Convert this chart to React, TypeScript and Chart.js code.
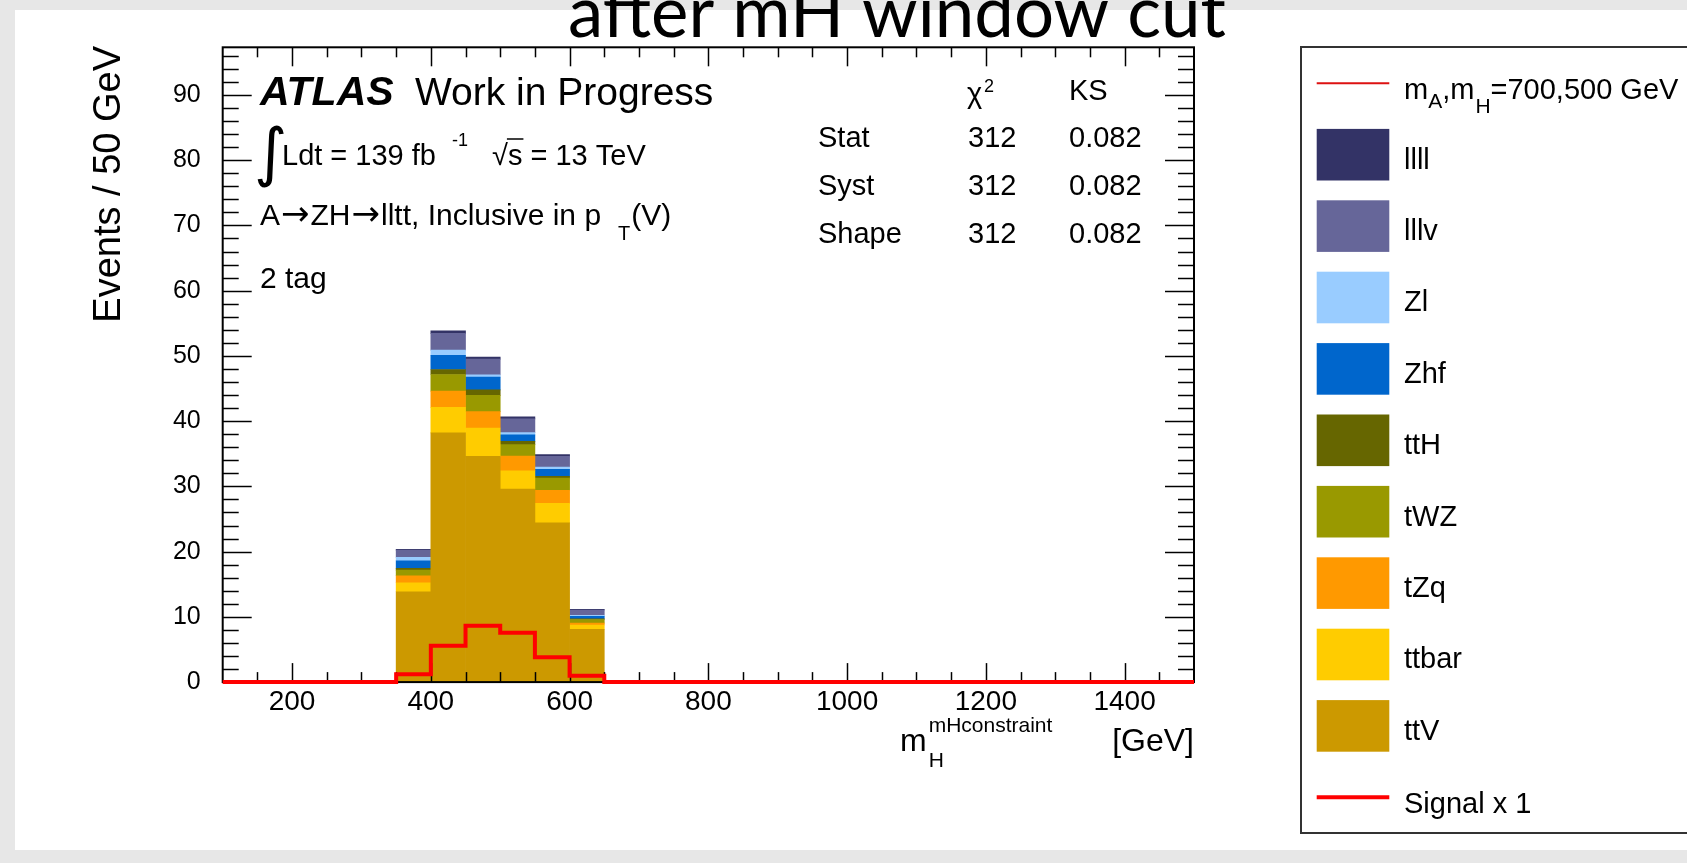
import React, { useEffect, useRef } from "react";
import { Chart, registerables } from "chart.js";

Chart.register(...registerables);

const W = 1687;
const H = 863;
const FONT = "'Liberation Sans', Arial, Helvetica, sans-serif";

// ---------------- data ----------------
const binCenters = [375, 425, 475, 525, 575, 625];
const ttV = [13.85, 38.2, 34.6, 29.6, 24.4, 8.1];
const ttbar = [1.38, 3.9, 4.35, 2.8, 3.0, 0.65];
const tZq = [1.07, 2.5, 2.5, 2.24, 2.0, 0.3];
const tWZ = [0.87, 2.55, 2.5, 1.76, 1.87, 0.55];
const ttH = [0.26, 0.77, 0.85, 0.5, 0.28, 0.1];
const Zhf = [1.17, 2.18, 1.95, 1.0, 1.07, 0.4];
const Zl = [0.52, 0.78, 0.35, 0.35, 0.35, 0.15];
const lllv = [1.12, 2.56, 2.4, 2.1, 1.65, 0.8];
const llll = [0.1, 0.4, 0.3, 0.3, 0.25, 0.1];

const signalEdges = [100, 350, 400, 450, 500, 550, 600, 650, 1500];
const signalValues = [0, 1.2, 5.58, 8.65, 7.58, 3.8, 0.98, 0, 0];

const stackLabels = ["ttV", "ttbar", "tZq", "tWZ", "ttH", "Zhf", "Zl", "lllv", "llll"];
const stackColors = ["#cc9900", "#ffcc00", "#ff9900", "#999900", "#666600", "#0066cc", "#99ccff", "#666699", "#333366"];
const stackValues = [ttV, ttbar, tZq, tWZ, ttH, Zhf, Zl, lllv, llll];
const legendOrder = ["llll", "lllv", "Zl", "Zhf", "ttH", "tWZ", "tZq", "ttbar", "ttV"];

const xRange = [100, 1500];
const yRange = [0, 97.3];
const xLabelTicks = [200, 400, 600, 800, 1000, 1200, 1400];
const yLabelTicks = [0, 10, 20, 30, 40, 50, 60, 70, 80, 90];
const xMinorStep = 50;
const xLabelStep = 100;
const xMajorStep = 200;
const yMinorStep = 2;
const yMajorStep = 10;

const statRows = ["Stat", "Syst", "Shape"];
const chi2Values = ["312", "312", "312"];
const ksValues = ["0.082", "0.082", "0.082"];

// ---------------- layout ----------------
const AREA = { left: 222.7, right: 1194, top: 47.3, bottom: 682.1 };
const YW = 120;
const XH = 80;
const SIG_INDEX = stackLabels.length;

function setFont(ctx: CanvasRenderingContext2D, size: number, style = "", family = FONT) {
  ctx.font = `${style} ${size}px ${family}`.trim();
}

function line(ctx: CanvasRenderingContext2D, x1: number, y1: number, x2: number, y2: number) {
  ctx.beginPath();
  ctx.moveTo(x1, y1);
  ctx.lineTo(x2, y2);
  ctx.stroke();
}

function rich(ctx: CanvasRenderingContext2D, x: number, y: number, parts: { t: string; size: number; dy?: number; family?: string; style?: string; gap?: number }[]) {
  let cx = x;
  for (const p of parts) {
    setFont(ctx, p.size, p.style || "", p.family || FONT);
    cx += p.gap || 0;
    ctx.fillText(p.t, cx, y + (p.dy || 0));
    cx += ctx.measureText(p.t).width;
  }
  return cx;
}

const rootPlugin = {
  id: "rootStyle",
  beforeDraw(chart: any) {
    const ctx: CanvasRenderingContext2D = chart.ctx;
    ctx.save();
    ctx.fillStyle = "#e7e7e7";
    ctx.fillRect(0, 0, W, H);
    ctx.fillStyle = "#ffffff";
    ctx.fillRect(15, 10, W - 15, 850 - 10);
    ctx.restore();
  },
  beforeDatasetDraw(chart: any, args: any) {
    if (args.index !== SIG_INDEX) return;
    const ctx: CanvasRenderingContext2D = chart.ctx;
    const { left, right, top, bottom } = chart.chartArea;
    const xs = chart.scales.x;
    const ys = chart.scales.y;
    ctx.save();
    ctx.strokeStyle = "#000";
    ctx.lineWidth = 1.5;
    for (let v = xRange[0] + xMinorStep; v < xRange[1]; v += xMinorStep) {
      const px = Math.round(xs.getPixelForValue(v)) + 0.5;
      const len = v % xMajorStep === 0 ? 19 : 10;
      line(ctx, px, bottom, px, bottom - len);
      line(ctx, px, top, px, top + len);
    }
    for (let v = yRange[0] + yMinorStep; v < yRange[1]; v += yMinorStep) {
      const py = Math.round(ys.getPixelForValue(v)) + 0.5;
      const len = v % yMajorStep === 0 ? 29 : 16;
      line(ctx, left, py, left + len, py);
      line(ctx, right, py, right - len, py);
    }
    ctx.lineWidth = 2;
    ctx.strokeRect(left, top, right - left, bottom - top);
    ctx.restore();
  },
  afterDraw(chart: any) {
    const ctx: CanvasRenderingContext2D = chart.ctx;
    ctx.save();
    ctx.fillStyle = "#000";
    ctx.textAlign = "left";
    ctx.textBaseline = "alphabetic";

    // Title
    {
      const title = "after mH window cut";
      let size = 60;
      ctx.font = `${size}px Lato, 'Open Sans', sans-serif`;
      const w = ctx.measureText(title).width;
      size = size * 658 / w;
      ctx.font = `${size}px Lato, 'Open Sans', sans-serif`;
      ctx.textAlign = "center";
      ctx.fillText(title, 897, 37);
      ctx.textAlign = "left";
    }

    // ATLAS label
    setFont(ctx, 41, "italic bold");
    ctx.fillText("ATLAS", 260, 105);
    setFont(ctx, 39);
    ctx.fillText("Work in Progress", 415, 105);

    // Luminosity line
    ctx.font = `64px 'DejaVu Sans'`;
    ctx.fillText("\u222B", 254, 174);
    setFont(ctx, 29);
    ctx.fillText("Ldt = 139 fb", 282, 165);
    setFont(ctx, 18);
    ctx.fillText("-1", 452, 146);
    setFont(ctx, 29);
    ctx.fillText("\u221A", 492, 165);
    const sx = 492 + ctx.measureText("\u221A").width;
    ctx.fillText("s = 13 TeV", sx, 165);
    const sw = ctx.measureText("s").width;
    ctx.lineWidth = 1.5;
    ctx.strokeStyle = "#000";
    line(ctx, sx - 1, 139, sx + sw + 1, 139);

    // Channel line
    const AR = "'DejaVu Sans'";
    const x3 = rich(ctx, 260, 225, [
      { t: "A", size: 30 },
      { t: "\u2192", size: 34, family: AR, gap: 1 },
      { t: "ZH", size: 30, gap: 1 },
      { t: "\u2192", size: 34, family: AR, gap: 1 },
      { t: "lltt, Inclusive in p", size: 30, gap: 1 },
    ]);
    rich(ctx, x3 + 17, 225, [
      { t: "T", size: 20, dy: 15 },
      { t: "(V)", size: 30, gap: 1 },
    ]);

    setFont(ctx, 30);
    ctx.fillText("2 tag", 260, 288);

    // Stat table
    setFont(ctx, 29);
    ctx.fillText("\u03C7", 967, 103);
    ctx.fillText("KS", 1069, 100);
    setFont(ctx, 18);
    ctx.fillText("2", 984, 92);
    setFont(ctx, 29);
    const rowBase = [147, 195, 243];
    statRows.forEach((r, i) => {
      ctx.fillText(r, 818, rowBase[i]);
      ctx.fillText(chi2Values[i], 968, rowBase[i]);
      ctx.fillText(ksValues[i], 1069, rowBase[i]);
    });

    // X axis title
    setFont(ctx, 32);
    ctx.fillText("m", 900, 751);
    const mw = ctx.measureText("m").width;
    setFont(ctx, 21);
    ctx.fillText("mHconstraint", 900 + mw + 2, 732);
    ctx.fillText("H", 900 + mw + 2, 767);
    setFont(ctx, 32);
    ctx.textAlign = "right";
    ctx.fillText("[GeV]", 1194, 751);
    ctx.textAlign = "left";

    // Y axis title
    ctx.save();
    ctx.translate(120, 46);
    ctx.rotate(-Math.PI / 2);
    setFont(ctx, 38);
    ctx.textAlign = "right";
    ctx.fillText("Events / 50 GeV", 0, 0);
    ctx.restore();

    // Legend
    const LX = 1301, LT = 47, LB = 833;
    ctx.lineWidth = 2;
    ctx.strokeStyle = "#333";
    ctx.strokeRect(LX, LT, W + 20 - LX, LB - LT);
    const y0 = 83.3, step = 71.4;
    const bx = 1316.7, bw = 72.6, bh = 51.6, tx = 1404;
    ctx.strokeStyle = "#dd1111";
    ctx.lineWidth = 2;
    line(ctx, bx, y0, bx + bw, y0);
    const base0 = y0 + 16;
    rich(ctx, tx, base0, [
      { t: "m", size: 29 },
      { t: "A", size: 21, dy: 9 },
      { t: ",m", size: 29 },
      { t: "H", size: 21, dy: 14, gap: 1 },
      { t: "=700,500 GeV", size: 29 },
    ]);
    legendOrder.forEach((name, i) => {
      const cy = y0 + step * (i + 1);
      const k = stackLabels.indexOf(name);
      ctx.fillStyle = stackColors[k];
      ctx.fillRect(bx, cy - bh / 2, bw, bh);
      ctx.fillStyle = "#000";
      setFont(ctx, 29);
      ctx.fillText(name, tx, cy + 13.8);
    });
    const cyS = y0 + step * (legendOrder.length + 1);
    ctx.strokeStyle = "#ff0000";
    ctx.lineWidth = 4;
    line(ctx, bx, cyS, bx + bw, cyS);
    ctx.fillStyle = "#000";
    setFont(ctx, 29);
    ctx.fillText("Signal x 1", tx, cyS + 16);

    ctx.restore();
  },
};

export default function App() {
  const ref = useRef<HTMLCanvasElement>(null);
  useEffect(() => {
    const canvas = ref.current;
    if (!canvas) return;
    const datasets: any[] = stackLabels.map((label, k) => ({
      type: "bar",
      label,
      data: binCenters.map((x, i) => ({ x, y: stackValues[k][i] })),
      backgroundColor: stackColors[k],
      borderWidth: 0,
      barPercentage: 1,
      categoryPercentage: 1,
      stack: "bkg",
      order: 1,
    }));
    datasets.push({
      type: "line",
      label: "Signal x 1",
      data: signalEdges.map((x, i) => ({ x, y: signalValues[i] })),
      stepped: true,
      borderColor: "#ff0000",
      borderWidth: 4,
      pointRadius: 0,
      fill: false,
      clip: false,
      stack: "sig",
      order: 0,
      borderJoinStyle: "miter",
    });
    const chart = new Chart(canvas, {
      type: "bar",
      data: { datasets },
      plugins: [rootPlugin],
      options: {
        animation: false,
        responsive: false,
        devicePixelRatio: 1,
        events: [],
        layout: {
          padding: {
            left: AREA.left - YW,
            right: W - AREA.right,
            top: AREA.top,
            bottom: H - AREA.bottom - XH,
          },
        },
        plugins: { legend: { display: false }, tooltip: { enabled: false }, title: { display: false } },
        scales: {
          x: {
            type: "linear",
            min: xRange[0],
            max: xRange[1],
            stacked: true,
            offset: false,
            grid: { display: false, drawTicks: false, offset: false },
            border: { display: false },
            ticks: {
              stepSize: xLabelStep,
              maxTicksLimit: 100,
              autoSkip: false,
              maxRotation: 0,
              padding: 3,
              color: "#000",
              font: { family: FONT, size: 28 },
              callback: (v: any) => (xLabelTicks.includes(Number(v)) ? String(v) : null),
            },
            afterFit: (s: any) => {
              s.height = XH;
            },
          },
          y: {
            type: "linear",
            min: yRange[0],
            max: yRange[1],
            stacked: true,
            grid: { display: false, drawTicks: false },
            border: { display: false },
            ticks: {
              stepSize: yMajorStep,
              maxTicksLimit: 100,
              autoSkip: false,
              padding: 22,
              color: "#000",
              font: { family: FONT, size: 25 },
              callback: (v: any) => (yLabelTicks.includes(Number(v)) ? String(v) : null),
            },
            afterFit: (s: any) => {
              s.width = YW;
            },
          },
        },
      } as any,
    });
    return () => chart.destroy();
  }, []);
  return (
    <div style={{ position: "fixed", left: 0, top: 0, width: W, height: H, overflow: "hidden", background: "#e7e7e7" }}>
      <canvas ref={ref} width={W} height={H} style={{ display: "block", width: W, height: H }} />
    </div>
  );
}
